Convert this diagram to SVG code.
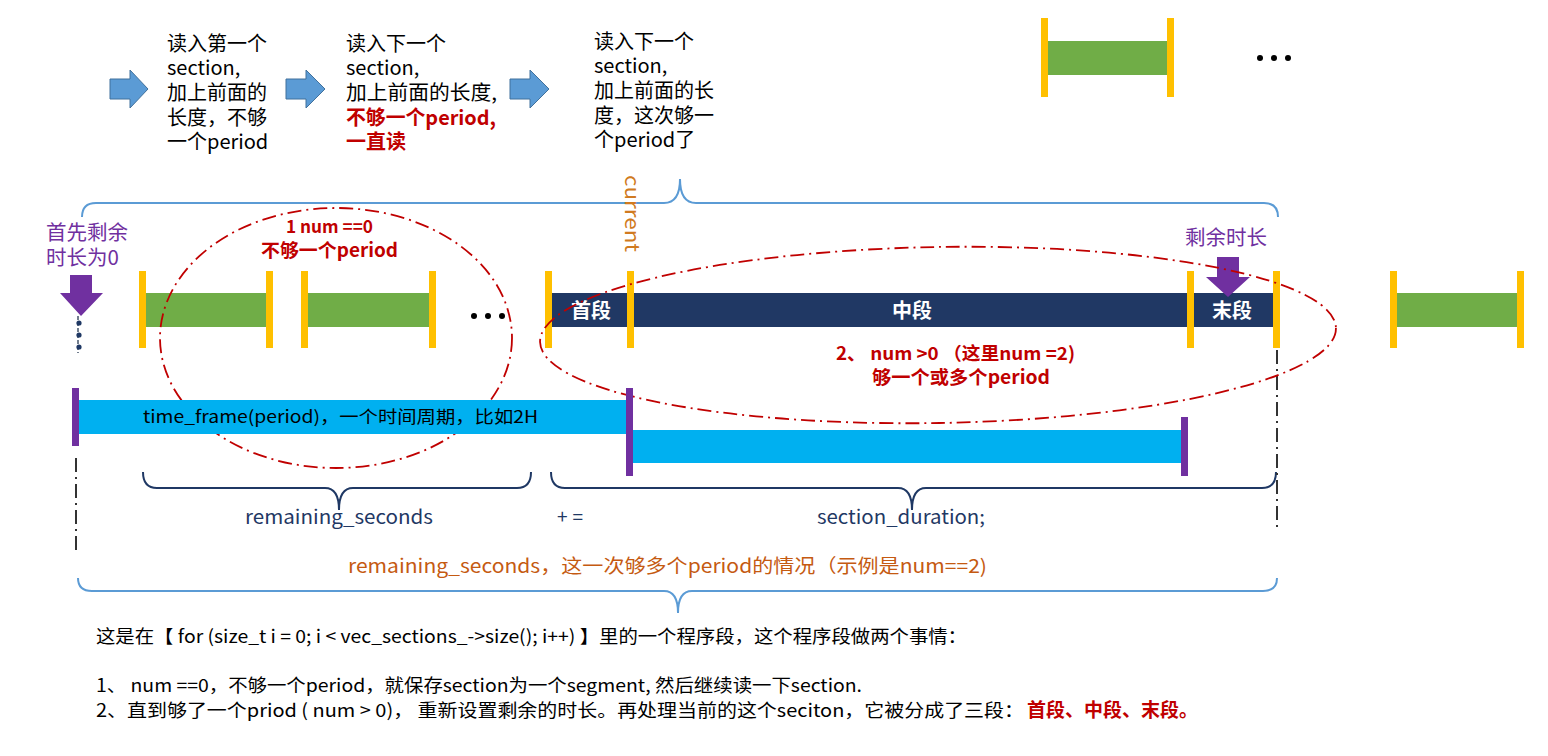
<svg xmlns="http://www.w3.org/2000/svg" width="1548" height="756" viewBox="0 0 1548 756">
<defs>
<style>
text{font-family:"Noto Sans CJK SC","Liberation Sans",sans-serif;}
.t{font-size:20px;fill:#000;}
.red{fill:#C00000;font-weight:bold;}
.barY{fill:#FFC000;}
.green{fill:#70AD47;}
.navy{fill:#203864;}
.cyan{fill:#00B0F0;}
.purp{fill:#7030A0;}
.blk{fill:#5B9BD5;stroke:#41719C;stroke-width:1;}
.brace1{fill:none;stroke:#5B9BD5;stroke-width:2;}
.brace2{fill:none;stroke:#1F3864;stroke-width:2;}
.ell{fill:none;stroke:#C00000;stroke-width:1.8;stroke-dasharray:14 5 2 5;}
.dd{fill:none;stroke:#333;stroke-width:2;stroke-dasharray:14 5 2 5;}
.white{fill:#fff;font-weight:bold;font-size:20px;}
.pl{font-size:20.5px;fill:#7030A0;}
.nv{font-size:19px;fill:#1F3864;}
</style>
</defs>
<rect width="1548" height="756" fill="#fff"/>

<g id="step-arrows">
<polygon class="blk" points="110,79 130,79 130,70 148,89 130,108 130,99 110,99"/>
<polygon class="blk" points="286,79 306,79 306,70 325,89 306,108 306,99 286,99"/>
<polygon class="blk" points="510,79 530,79 530,70 549,89 530,108 530,99 510,99"/>
</g>

<g id="step1-text" class="t">
<text x="167" y="51">读入第一个</text>
<text x="167" y="75">section,</text>
<text x="167" y="100">加上前面的</text>
<text x="167" y="125">长度，不够</text>
<text x="167" y="149">一个period</text>
</g>
<g id="step2-text" class="t">
<text x="346" y="51">读入下一个</text>
<text x="346" y="75">section,</text>
<text x="346" y="100" textLength="151" lengthAdjust="spacingAndGlyphs">加上前面的长度,</text>
<text x="346" y="125" class="red" textLength="150" lengthAdjust="spacingAndGlyphs">不够一个period,</text>
<text x="346" y="149" class="red">一直读</text>
</g>
<g id="step3-text" class="t">
<text x="594" y="49">读入下一个</text>
<text x="594" y="73">section,</text>
<text x="594" y="98">加上前面的长</text>
<text x="594" y="123">度，这次够一</text>
<text x="594" y="147">个period了</text>
</g>

<g id="top-right-section">
<rect class="green" x="1048" y="41" width="119" height="34"/>
<rect class="barY" x="1041" y="18" width="7" height="79"/>
<rect class="barY" x="1167" y="18" width="7" height="79"/>
<circle cx="1260" cy="58" r="3"/><circle cx="1274" cy="58" r="3"/><circle cx="1288" cy="58" r="3"/>
</g>

<g id="connectors">
<path class="brace1" d="M82,217 Q82,203 96,203 L664,203 Q680,203 680,179 Q680,203 696,203 L1264,203 Q1278,203 1278,217"/>
<path class="brace2" d="M143,472 Q143,488 157,488 L325,488 Q339,488 339,510 Q339,488 353,488 L517,488 Q531,488 531,472"/>
<path class="brace2" d="M551,472 Q551,488 565,488 L898,488 Q912,488 912,510 Q912,488 926,488 L1262,488 Q1276,488 1276,472"/>
<path class="brace1" d="M78,578 Q78,591 92,591 L664,591 Q678,591 678,613 Q678,591 692,591 L1263,591 Q1277,591 1277,578"/>
<line class="dd" x1="76" y1="458" x2="76" y2="552"/>
<line class="dd" x1="1277" y1="350" x2="1277" y2="532"/>
<line x1="78" y1="316" x2="78" y2="353" stroke="#44546A" stroke-width="1.5" stroke-dasharray="4 2"/>
</g>

<g id="current-label">
<text transform="translate(625,175) rotate(90)" style="font-size:20px;fill:#D07A20;" textLength="77" lengthAdjust="spacingAndGlyphs">current</text>
</g>

<g id="start-remaining">
<text x="46" y="240" class="pl">首先剩余</text>
<text x="46" y="265" class="pl">时长为0</text>
<polygon class="purp" points="70,275 92,275 92,293 103,293 81,316 60,293 70,293"/>
<circle cx="79" cy="323" r="2.6" fill="#1F3864"/>
<circle cx="79" cy="335" r="2.6" fill="#1F3864"/>
<circle cx="79" cy="347" r="2.6" fill="#1F3864"/>
</g>

<g id="green-sections">
<rect class="green" x="146" y="293" width="120" height="34"/>
<rect class="green" x="308" y="293" width="121" height="34"/>
<rect class="barY" x="139" y="271" width="7" height="77"/>
<rect class="barY" x="266" y="271" width="7" height="77"/>
<rect class="barY" x="301" y="271" width="7" height="77"/>
<rect class="barY" x="429" y="271" width="7" height="77"/>
<circle cx="474" cy="316" r="3"/><circle cx="488" cy="316" r="3"/><circle cx="502" cy="316" r="3"/>
</g>

<g id="case1-label">
<text x="286" y="233" class="red" style="font-size:17.5px;" textLength="87" lengthAdjust="spacingAndGlyphs">1 num ==0</text>
<text x="261" y="257" class="red" style="font-size:18.5px;" textLength="137" lengthAdjust="spacingAndGlyphs">不够一个period</text>
</g>

<g id="current-section">
<rect class="navy" x="549" y="293" width="726" height="34"/>
<rect class="barY" x="545" y="271" width="7" height="77"/>
<rect class="barY" x="627" y="271" width="7" height="77"/>
<rect class="barY" x="1187" y="271" width="7" height="77"/>
<rect class="barY" x="1273" y="271" width="7" height="77"/>
<text x="591" y="318" text-anchor="middle" class="white">首段</text>
<text x="912" y="318" text-anchor="middle" class="white">中段</text>
<text x="1232" y="318" text-anchor="middle" class="white">末段</text>
</g>

<g id="remaining-label">
<text x="1185" y="245" class="pl">剩余时长</text>
<polygon class="purp" points="1217,257 1239,257 1239,277 1250,277 1228,297 1206,277 1217,277"/>
</g>

<g id="right-section">
<rect class="green" x="1397" y="293" width="120" height="34"/>
<rect class="barY" x="1390" y="271" width="7" height="77"/>
<rect class="barY" x="1517" y="271" width="7" height="77"/>
</g>

<g id="case2-label">
<text x="836" y="360" class="red" style="font-size:18px;" textLength="239" lengthAdjust="spacingAndGlyphs">2、 num &gt;0 （这里num =2)</text>
<text x="872" y="384" class="red" style="font-size:18.5px;" textLength="178" lengthAdjust="spacingAndGlyphs">够一个或多个period</text>
</g>

<g id="ellipses">
<ellipse class="ell" cx="336" cy="338" rx="176" ry="130"/>
<ellipse class="ell" cx="938" cy="335" rx="398" ry="88" transform="rotate(-1 938 335)"/>
</g>

<g id="time-frames">
<rect class="cyan" x="78" y="400" width="552" height="34"/>
<rect class="cyan" x="633" y="430" width="550" height="33"/>
<rect class="purp" x="72" y="388" width="7" height="58"/>
<rect class="purp" x="626" y="388" width="7" height="88"/>
<rect class="purp" x="1181" y="417" width="7" height="59"/>
<text x="143" y="423" style="font-size:17px;fill:#000;" textLength="395" lengthAdjust="spacingAndGlyphs">time_frame(period)，一个时间周期，比如2H</text>
</g>

<g id="formula">
<text x="245" y="524" class="nv" textLength="188" lengthAdjust="spacingAndGlyphs">remaining_seconds</text>
<text x="557" y="524" class="nv" textLength="26" lengthAdjust="spacing">+=</text>
<text x="817" y="524" class="nv" textLength="168" lengthAdjust="spacingAndGlyphs">section_duration;</text>
<text x="348" y="573" style="font-size:19px;fill:#C55A11;" textLength="639" lengthAdjust="spacingAndGlyphs">remaining_seconds，这一次够多个period的情况（示例是num==2)</text>
</g>

<g id="notes" style="font-size:18px;fill:#000;">
<text x="96" y="643" textLength="871" lengthAdjust="spacingAndGlyphs">这是在【 for (size_t i = 0; i &lt; vec_sections_-&gt;size(); i++) 】里的一个程序段，这个程序段做两个事情：</text>
<text x="96" y="692" textLength="766" lengthAdjust="spacingAndGlyphs">1、 num ==0，不够一个period，就保存section为一个segment, 然后继续读一下section.</text>
<text x="96" y="717" textLength="928" lengthAdjust="spacingAndGlyphs">2、直到够了一个priod ( num &gt; 0)， 重新设置剩余的时长。再处理当前的这个seciton，它被分成了三段：</text>
<text x="1027" y="717" style="fill:#C00000;font-weight:bold;font-size:19px;" textLength="171" lengthAdjust="spacingAndGlyphs">首段、中段、末段。</text>
</g>
</svg>
